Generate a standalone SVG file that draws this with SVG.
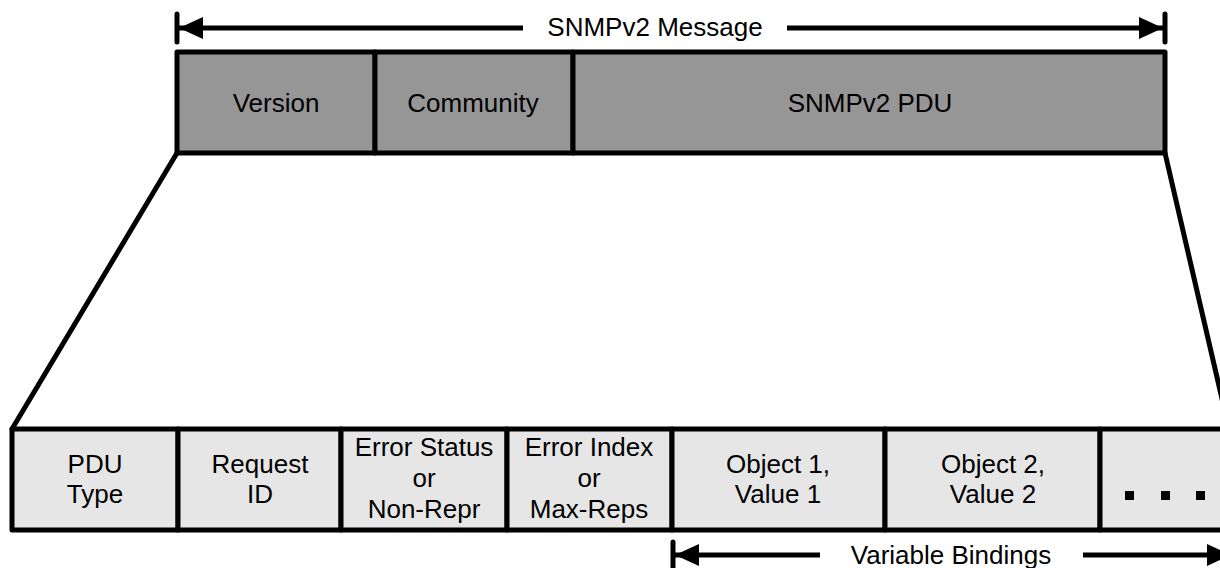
<svg xmlns="http://www.w3.org/2000/svg" width="1220" height="568" viewBox="0 0 1220 568">
<style>
text{font-family:"Liberation Sans",Arial,sans-serif;font-size:26px;fill:#000;text-anchor:middle}
.top{fill:#969696;stroke:#000;stroke-width:5;stroke-linejoin:round}
.bot{fill:#e6e6e6;stroke:#000;stroke-width:5;stroke-linejoin:round}
.ln{stroke:#000;stroke-width:5;fill:none;stroke-linecap:round}
.ar{stroke:#000;stroke-width:5;fill:none;stroke-linecap:butt}
.dot{fill:#000}
</style>
<defs>
<marker id="ah" viewBox="0 0 24 22" refX="24" refY="11" markerWidth="24" markerHeight="22" orient="auto-start-reverse" markerUnits="userSpaceOnUse">
<path d="M0,0 L24,11 L0,22 Z" fill="#000"/>
</marker>
</defs>
<g id="connectors">
<line class="ln" x1="177" y1="153" x2="12" y2="429"/>
<line class="ln" x1="1165" y1="153" x2="1229" y2="429"/>
<line class="ln" x1="177" y1="14" x2="177" y2="42"/>
<line class="ln" x1="1165" y1="14" x2="1165" y2="42"/>
<line class="ar" x1="523" y1="28" x2="179" y2="28" marker-end="url(#ah)"/>
<line class="ar" x1="787" y1="28" x2="1163" y2="28" marker-end="url(#ah)"/>
<line class="ln" x1="673" y1="542" x2="673" y2="570"/>
<line class="ar" x1="820" y1="555" x2="675" y2="555" marker-end="url(#ah)"/>
<line class="ar" x1="1083" y1="555" x2="1231" y2="555" marker-end="url(#ah)"/>
</g>
<g id="label-message"><text x="655" y="36">SNMPv2 Message</text></g>
<g id="label-bindings"><text x="951" y="564">Variable Bindings</text></g>
<g id="version"><rect class="top" x="177" y="52" width="198" height="101"/><text x="276" y="112">Version</text></g>
<g id="community"><rect class="top" x="375" y="52" width="198" height="101"/><text x="473" y="112">Community</text></g>
<g id="pdu"><rect class="top" x="573" y="52" width="592" height="101"/><text x="870" y="112">SNMPv2 PDU</text></g>
<g id="pdu-type"><rect class="bot" x="12" y="429" width="166" height="101"/><text x="95" y="473">PDU</text><text x="95" y="503">Type</text></g>
<g id="request-id"><rect class="bot" x="178" y="429" width="163" height="101"/><text x="260" y="473">Request</text><text x="260" y="503">ID</text></g>
<g id="error-status"><rect class="bot" x="341" y="429" width="166" height="101"/><text x="424" y="456">Error Status</text><text x="424" y="487">or</text><text x="424" y="518">Non-Repr</text></g>
<g id="error-index"><rect class="bot" x="507" y="429" width="165" height="101"/><text x="589" y="456">Error Index</text><text x="589" y="487">or</text><text x="589" y="518">Max-Reps</text></g>
<g id="obj1"><rect class="bot" x="672" y="429" width="213" height="101"/><text x="778" y="473">Object 1,</text><text x="778" y="503">Value 1</text></g>
<g id="obj2"><rect class="bot" x="885" y="429" width="215" height="101"/><text x="993" y="473">Object 2,</text><text x="993" y="503">Value 2</text></g>
<g id="more"><rect class="bot" x="1100" y="429" width="130" height="101"/>
<rect class="dot" x="1125" y="491" width="9" height="9"/><rect class="dot" x="1161" y="491" width="9" height="9"/><rect class="dot" x="1196" y="491" width="9" height="9"/></g>
</svg>
